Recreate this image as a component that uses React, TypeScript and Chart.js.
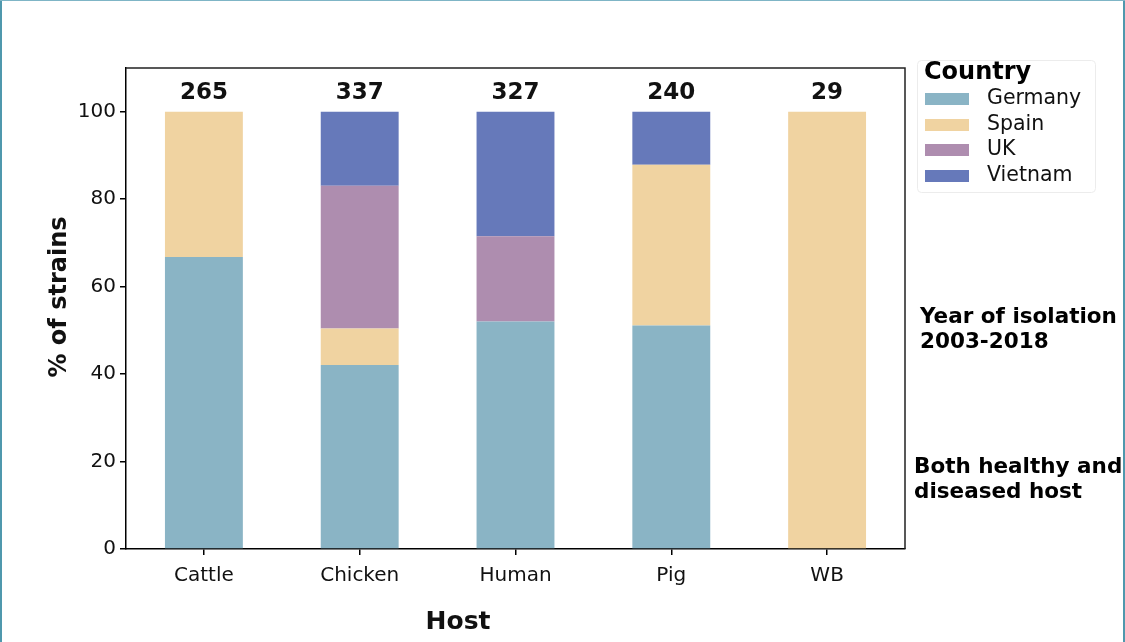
import React, { useEffect, useRef } from "react";
import { Chart, registerables } from "chart.js";

Chart.register(...registerables);

const hosts = ["Cattle", "Chicken", "Human", "Pig", "WB"];
const counts = ["265", "337", "327", "240", "29"];
const germany = [66.8, 42.1, 52.0, 51.1, 0];
const spain = [33.2, 8.3, 0, 36.8, 100];
const uk = [0, 32.7, 19.5, 0, 0];
const vietnam = [0, 16.9, 28.5, 12.1, 0];
const countries = ["Germany", "Spain", "UK", "Vietnam"];
const colors = ["#8ab4c5", "#f0d3a1", "#ae8daf", "#6679ba"];
const yTicks = [0, 20, 40, 60, 80, 100];
const notes1 = ["Year of isolation", "2003-2018"];
const notes2 = ["Both healthy and", "diseased host"];

const FONT = "'DejaVu Sans', sans-serif";

const extrasPlugin = {
  id: "extras",
  afterDraw(chart: any) {
    const ctx = chart.ctx;
    const area = chart.chartArea;
    const xs = chart.scales.x;
    const ys = chart.scales.y;
    ctx.save();
    // frame top/right
    ctx.strokeStyle = "#222";
    ctx.lineWidth = 1.5;
    ctx.beginPath();
    ctx.moveTo(area.left, area.top);
    ctx.lineTo(area.right, area.top);
    ctx.lineTo(area.right, area.bottom);
    ctx.stroke();

    // counts above bars
    ctx.fillStyle = "#111";
    ctx.font = `bold 23px ${FONT}`;
    ctx.textAlign = "center";
    ctx.textBaseline = "middle";
    counts.forEach((c, i) => {
      ctx.fillText(c, xs.getPixelForValue(i), ys.getPixelForValue(104.2));
    });

    // axis titles
    ctx.font = `bold 25px ${FONT}`;
    ctx.fillText("Host", 458, 622);
    ctx.save();
    ctx.translate(60, 297);
    ctx.rotate(-Math.PI / 2);
    ctx.font = `bold 24px ${FONT}`;
    ctx.fillText("% of strains", 0, 0);
    ctx.restore();

    // legend
    ctx.strokeStyle = "#ececec";
    ctx.lineWidth = 1;
    ctx.beginPath();
    (ctx as any).roundRect(917.5, 60.5, 178, 132, 4);
    ctx.stroke();
    ctx.textAlign = "left";
    ctx.fillStyle = "#000";
    ctx.font = `bold 24px ${FONT}`;
    ctx.fillText("Country", 924, 72.5);
    ctx.font = `20.5px ${FONT}`;
    const rowY = [99, 125, 150, 176];
    countries.forEach((name, i) => {
      ctx.fillStyle = colors[i];
      ctx.fillRect(925, rowY[i] - 6, 44, 12);
      ctx.fillStyle = "#111";
      ctx.fillText(name, 987, rowY[i]);
    });

    // notes
    ctx.font = `bold 21.5px ${FONT}`;
    ctx.fillStyle = "#000";
    ctx.fillText(notes1[0], 920, 317);
    ctx.fillText(notes1[1], 920, 342);
    ctx.fillText(notes2[0], 914, 467);
    ctx.fillText(notes2[1], 914, 492);

    // page border
    ctx.fillStyle = "#4f98ad";
    ctx.fillRect(0, 0, 2, 642);
    ctx.fillRect(1123, 0, 2, 642);
    ctx.fillStyle = "#7fb5c6";
    ctx.fillRect(0, 0, 1125, 1);
    ctx.restore();
  },
};

export default function App() {
  const ref = useRef<HTMLCanvasElement | null>(null);
  useEffect(() => {
    if (!ref.current) return;
    const series = [germany, spain, uk, vietnam];
    const chart = new Chart(ref.current, {
      type: "bar",
      data: {
        labels: hosts,
        datasets: countries.map((name, i) => ({
          label: name,
          data: series[i],
          backgroundColor: colors[i],
          borderWidth: 0,
          categoryPercentage: 1.0,
          barPercentage: 0.5,
        })),
      },
      options: {
        responsive: false,
        animation: false,
        layout: { padding: { top: 68, right: 220, bottom: 0, left: 0 } },
        plugins: { legend: { display: false }, tooltip: { enabled: false } },
        scales: {
          x: {
            stacked: true,
            ticks: { font: { family: FONT, size: 20 }, color: "#111", padding: 9 },
            grid: { offset: false, drawOnChartArea: false, tickLength: 6, color: "#000", lineWidth: 1.5 },
            border: { color: "#000", width: 1.5 },
            afterFit: (s: any) => {
              s.height = 93;
            },
          },
          y: {
            stacked: true,
            min: 0,
            max: 110,
            ticks: { stepSize: 20, font: { family: FONT, size: 20 }, color: "#111", padding: 4 },
            grid: { drawOnChartArea: false, tickLength: 6, color: "#000", lineWidth: 1.5 },
            border: { color: "#000", width: 1.5 },
            afterBuildTicks: (s: any) => {
              s.ticks = yTicks.map((v) => ({ value: v }));
            },
            afterFit: (s: any) => {
              s.width = 126;
            },
          },
        },
      },
      plugins: [extrasPlugin],
    });
    return () => chart.destroy();
  }, []);
  return (
    <div style={{ position: "absolute", left: 0, top: 0, width: 1125, height: 642, background: "#fff" }}>
      <canvas ref={ref} width={1125} height={642} />
    </div>
  );
}
